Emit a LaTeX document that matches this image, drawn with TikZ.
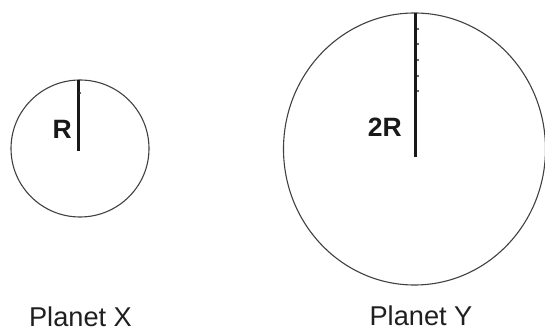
\documentclass[tikz,border=0pt]{standalone}
\usepackage{fontspec}
\usetikzlibrary{shapes.geometric}
\setmainfont{Liberation Sans}
\begin{document}
\begin{tikzpicture}[x=1pt,y=1pt,
  planet/.style={draw=black!75,line width=1.1pt},
  radius/.style={line width=3pt,draw=black!90},
  tickdot/.style={fill=black!80,circle,inner sep=0pt,minimum size=2.2pt},
  lbl/.style={font=\fontsize{26.5}{30}\selectfont\bfseries,text=black!90,inner sep=0pt},
  caption/.style={font=\fontsize{27.2}{32}\selectfont,text=black!88,inner sep=0pt}]
\useasboundingbox (0,0) rectangle (545,331);
% Planet X
\node[planet,ellipse,minimum width=138pt,minimum height=137pt,inner sep=0pt] (px) at (80,182.5) {};
\coordinate (pxc) at (78,180);
\draw[radius] (pxc) -- (78,251);
\node[tickdot] at (80,238) {};
\node[lbl,anchor=east] (r) at (72,202) {R};
\node[caption] (nx) at (80.5,14.5) {Planet X};
% Planet Y
\node[planet,ellipse,minimum width=262pt,minimum height=272pt,inner sep=0pt] (py) at (414.5,182) {};
\coordinate (pyc) at (415,174);
\draw[radius] (pyc) -- (415,318);
\foreach \y in {302,287,271,255,240} \node[tickdot] at (418,\y) {};
\node[lbl,anchor=east] (r2) at (402,203.5) {2R};
\node[caption] (ny) at (421,15) {Planet Y};
\end{tikzpicture}
\end{document}
